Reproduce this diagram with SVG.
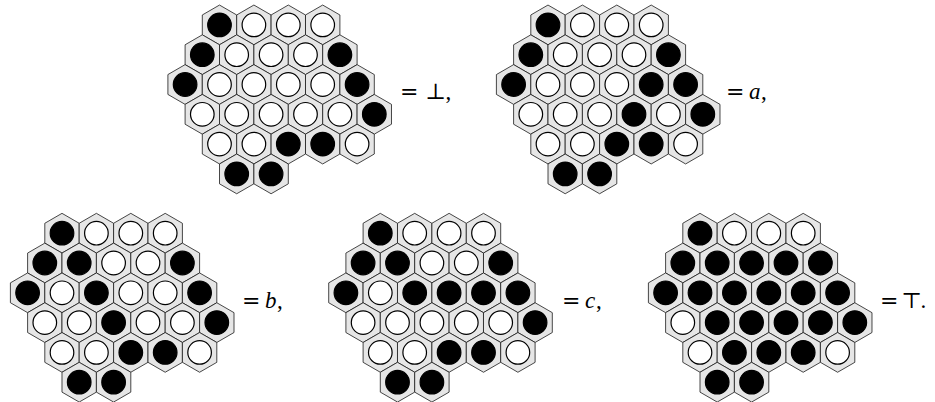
<svg xmlns="http://www.w3.org/2000/svg" xmlns:xlink="http://www.w3.org/1999/xlink" width="935" height="402" viewBox="0 0 935 402">
<style>
.hx{fill:#e6e6e6;stroke:#1a1a1a;stroke-width:0.8}
.b{fill:#000;stroke:#000;stroke-width:1.2}
.w{fill:#fff;stroke:#000;stroke-width:1.2}
.eq{font-family:"DejaVu Serif",serif;font-size:22px;fill:#000}
.it{font-family:"Liberation Serif",serif;font-style:italic;font-size:23px;fill:#000}
.pn{font-family:"Liberation Serif",serif;font-size:23px;fill:#000}
</style>
<defs>
<path id="hex" class="hx" d="M0,-19.86 L17.2,-9.93 L17.2,9.93 L0,19.86 L-17.2,9.93 L-17.2,-9.93 Z"/>
<g id="grid">
<use href="#hex" x="0" y="0"/><use href="#hex" x="34.4" y="0"/><use href="#hex" x="68.8" y="0"/><use href="#hex" x="103.2" y="0"/>
<use href="#hex" x="-17.2" y="29.8"/><use href="#hex" x="17.2" y="29.8"/><use href="#hex" x="51.6" y="29.8"/><use href="#hex" x="86" y="29.8"/><use href="#hex" x="120.4" y="29.8"/>
<use href="#hex" x="-34.4" y="59.6"/><use href="#hex" x="0" y="59.6"/><use href="#hex" x="34.4" y="59.6"/><use href="#hex" x="68.8" y="59.6"/><use href="#hex" x="103.2" y="59.6"/><use href="#hex" x="137.6" y="59.6"/>
<use href="#hex" x="-17.2" y="89.4"/><use href="#hex" x="17.2" y="89.4"/><use href="#hex" x="51.6" y="89.4"/><use href="#hex" x="86" y="89.4"/><use href="#hex" x="120.4" y="89.4"/><use href="#hex" x="154.8" y="89.4"/>
<use href="#hex" x="0" y="119.2"/><use href="#hex" x="34.4" y="119.2"/><use href="#hex" x="68.8" y="119.2"/><use href="#hex" x="103.2" y="119.2"/><use href="#hex" x="137.6" y="119.2"/>
<use href="#hex" x="17.2" y="149"/><use href="#hex" x="51.6" y="149"/>
</g>
</defs>

<g id="board-bottom" transform="translate(219.5,24.9)">
<use href="#grid"/>
<circle class="b" cx="0" cy="0" r="11.8"/><circle class="w" cx="34.4" cy="0" r="11.8"/><circle class="w" cx="68.8" cy="0" r="11.8"/><circle class="w" cx="103.2" cy="0" r="11.8"/>
<circle class="b" cx="-17.2" cy="29.8" r="11.8"/><circle class="w" cx="17.2" cy="29.8" r="11.8"/><circle class="w" cx="51.6" cy="29.8" r="11.8"/><circle class="w" cx="86" cy="29.8" r="11.8"/><circle class="b" cx="120.4" cy="29.8" r="11.8"/>
<circle class="b" cx="-34.4" cy="59.6" r="11.8"/><circle class="w" cx="0" cy="59.6" r="11.8"/><circle class="w" cx="34.4" cy="59.6" r="11.8"/><circle class="w" cx="68.8" cy="59.6" r="11.8"/><circle class="w" cx="103.2" cy="59.6" r="11.8"/><circle class="b" cx="137.6" cy="59.6" r="11.8"/>
<circle class="w" cx="-17.2" cy="89.4" r="11.8"/><circle class="w" cx="17.2" cy="89.4" r="11.8"/><circle class="w" cx="51.6" cy="89.4" r="11.8"/><circle class="w" cx="86" cy="89.4" r="11.8"/><circle class="w" cx="120.4" cy="89.4" r="11.8"/><circle class="b" cx="154.8" cy="89.4" r="11.8"/>
<circle class="w" cx="0" cy="119.2" r="11.8"/><circle class="w" cx="34.4" cy="119.2" r="11.8"/><circle class="b" cx="68.8" cy="119.2" r="11.8"/><circle class="b" cx="103.2" cy="119.2" r="11.8"/><circle class="w" cx="137.6" cy="119.2" r="11.8"/>
<circle class="b" cx="17.2" cy="149" r="11.8"/><circle class="b" cx="51.6" cy="149" r="11.8"/>
</g>
<g id="label-bottom">
<text class="eq" x="400" y="99">=</text><text class="eq" x="425.5" y="99">⊥</text><text class="pn" x="445.5" y="99">,</text>
</g>

<g id="board-a" transform="translate(548,24.9)">
<use href="#grid"/>
<circle class="b" cx="0" cy="0" r="11.8"/><circle class="w" cx="34.4" cy="0" r="11.8"/><circle class="w" cx="68.8" cy="0" r="11.8"/><circle class="w" cx="103.2" cy="0" r="11.8"/>
<circle class="b" cx="-17.2" cy="29.8" r="11.8"/><circle class="w" cx="17.2" cy="29.8" r="11.8"/><circle class="w" cx="51.6" cy="29.8" r="11.8"/><circle class="w" cx="86" cy="29.8" r="11.8"/><circle class="b" cx="120.4" cy="29.8" r="11.8"/>
<circle class="b" cx="-34.4" cy="59.6" r="11.8"/><circle class="w" cx="0" cy="59.6" r="11.8"/><circle class="w" cx="34.4" cy="59.6" r="11.8"/><circle class="w" cx="68.8" cy="59.6" r="11.8"/><circle class="b" cx="103.2" cy="59.6" r="11.8"/><circle class="b" cx="137.6" cy="59.6" r="11.8"/>
<circle class="w" cx="-17.2" cy="89.4" r="11.8"/><circle class="w" cx="17.2" cy="89.4" r="11.8"/><circle class="w" cx="51.6" cy="89.4" r="11.8"/><circle class="b" cx="86" cy="89.4" r="11.8"/><circle class="w" cx="120.4" cy="89.4" r="11.8"/><circle class="b" cx="154.8" cy="89.4" r="11.8"/>
<circle class="w" cx="0" cy="119.2" r="11.8"/><circle class="w" cx="34.4" cy="119.2" r="11.8"/><circle class="b" cx="68.8" cy="119.2" r="11.8"/><circle class="b" cx="103.2" cy="119.2" r="11.8"/><circle class="w" cx="137.6" cy="119.2" r="11.8"/>
<circle class="b" cx="17.2" cy="149" r="11.8"/><circle class="b" cx="51.6" cy="149" r="11.8"/>
</g>
<g id="label-a">
<text class="eq" x="726" y="99">=</text><text class="it" x="749" y="99">a</text><text class="pn" x="761" y="99">,</text>
</g>

<g id="board-b" transform="translate(62,233.2)">
<use href="#grid"/>
<circle class="b" cx="0" cy="0" r="11.8"/><circle class="w" cx="34.4" cy="0" r="11.8"/><circle class="w" cx="68.8" cy="0" r="11.8"/><circle class="w" cx="103.2" cy="0" r="11.8"/>
<circle class="b" cx="-17.2" cy="29.8" r="11.8"/><circle class="b" cx="17.2" cy="29.8" r="11.8"/><circle class="w" cx="51.6" cy="29.8" r="11.8"/><circle class="w" cx="86" cy="29.8" r="11.8"/><circle class="b" cx="120.4" cy="29.8" r="11.8"/>
<circle class="b" cx="-34.4" cy="59.6" r="11.8"/><circle class="w" cx="0" cy="59.6" r="11.8"/><circle class="b" cx="34.4" cy="59.6" r="11.8"/><circle class="w" cx="68.8" cy="59.6" r="11.8"/><circle class="w" cx="103.2" cy="59.6" r="11.8"/><circle class="b" cx="137.6" cy="59.6" r="11.8"/>
<circle class="w" cx="-17.2" cy="89.4" r="11.8"/><circle class="w" cx="17.2" cy="89.4" r="11.8"/><circle class="b" cx="51.6" cy="89.4" r="11.8"/><circle class="w" cx="86" cy="89.4" r="11.8"/><circle class="w" cx="120.4" cy="89.4" r="11.8"/><circle class="b" cx="154.8" cy="89.4" r="11.8"/>
<circle class="w" cx="0" cy="119.2" r="11.8"/><circle class="w" cx="34.4" cy="119.2" r="11.8"/><circle class="b" cx="68.8" cy="119.2" r="11.8"/><circle class="b" cx="103.2" cy="119.2" r="11.8"/><circle class="w" cx="137.6" cy="119.2" r="11.8"/>
<circle class="b" cx="17.2" cy="149" r="11.8"/><circle class="b" cx="51.6" cy="149" r="11.8"/>
</g>
<g id="label-b">
<text class="eq" x="242" y="308">=</text><text class="it" x="265" y="308">b</text><text class="pn" x="277" y="308">,</text>
</g>

<g id="board-c" transform="translate(380.3,233.2)">
<use href="#grid"/>
<circle class="b" cx="0" cy="0" r="11.8"/><circle class="w" cx="34.4" cy="0" r="11.8"/><circle class="w" cx="68.8" cy="0" r="11.8"/><circle class="w" cx="103.2" cy="0" r="11.8"/>
<circle class="b" cx="-17.2" cy="29.8" r="11.8"/><circle class="b" cx="17.2" cy="29.8" r="11.8"/><circle class="w" cx="51.6" cy="29.8" r="11.8"/><circle class="w" cx="86" cy="29.8" r="11.8"/><circle class="b" cx="120.4" cy="29.8" r="11.8"/>
<circle class="b" cx="-34.4" cy="59.6" r="11.8"/><circle class="w" cx="0" cy="59.6" r="11.8"/><circle class="b" cx="34.4" cy="59.6" r="11.8"/><circle class="b" cx="68.8" cy="59.6" r="11.8"/><circle class="b" cx="103.2" cy="59.6" r="11.8"/><circle class="b" cx="137.6" cy="59.6" r="11.8"/>
<circle class="w" cx="-17.2" cy="89.4" r="11.8"/><circle class="w" cx="17.2" cy="89.4" r="11.8"/><circle class="w" cx="51.6" cy="89.4" r="11.8"/><circle class="w" cx="86" cy="89.4" r="11.8"/><circle class="w" cx="120.4" cy="89.4" r="11.8"/><circle class="b" cx="154.8" cy="89.4" r="11.8"/>
<circle class="w" cx="0" cy="119.2" r="11.8"/><circle class="w" cx="34.4" cy="119.2" r="11.8"/><circle class="b" cx="68.8" cy="119.2" r="11.8"/><circle class="b" cx="103.2" cy="119.2" r="11.8"/><circle class="w" cx="137.6" cy="119.2" r="11.8"/>
<circle class="b" cx="17.2" cy="149" r="11.8"/><circle class="b" cx="51.6" cy="149" r="11.8"/>
</g>
<g id="label-c">
<text class="eq" x="562" y="308">=</text><text class="it" x="585" y="308">c</text><text class="pn" x="596" y="308">,</text>
</g>

<g id="board-top" transform="translate(700,233.2)">
<use href="#grid"/>
<circle class="b" cx="0" cy="0" r="11.8"/><circle class="w" cx="34.4" cy="0" r="11.8"/><circle class="w" cx="68.8" cy="0" r="11.8"/><circle class="w" cx="103.2" cy="0" r="11.8"/>
<circle class="b" cx="-17.2" cy="29.8" r="11.8"/><circle class="b" cx="17.2" cy="29.8" r="11.8"/><circle class="b" cx="51.6" cy="29.8" r="11.8"/><circle class="b" cx="86" cy="29.8" r="11.8"/><circle class="b" cx="120.4" cy="29.8" r="11.8"/>
<circle class="b" cx="-34.4" cy="59.6" r="11.8"/><circle class="b" cx="0" cy="59.6" r="11.8"/><circle class="b" cx="34.4" cy="59.6" r="11.8"/><circle class="b" cx="68.8" cy="59.6" r="11.8"/><circle class="b" cx="103.2" cy="59.6" r="11.8"/><circle class="b" cx="137.6" cy="59.6" r="11.8"/>
<circle class="w" cx="-17.2" cy="89.4" r="11.8"/><circle class="b" cx="17.2" cy="89.4" r="11.8"/><circle class="b" cx="51.6" cy="89.4" r="11.8"/><circle class="b" cx="86" cy="89.4" r="11.8"/><circle class="b" cx="120.4" cy="89.4" r="11.8"/><circle class="b" cx="154.8" cy="89.4" r="11.8"/>
<circle class="w" cx="0" cy="119.2" r="11.8"/><circle class="b" cx="34.4" cy="119.2" r="11.8"/><circle class="b" cx="68.8" cy="119.2" r="11.8"/><circle class="b" cx="103.2" cy="119.2" r="11.8"/><circle class="w" cx="137.6" cy="119.2" r="11.8"/>
<circle class="b" cx="17.2" cy="149" r="11.8"/><circle class="b" cx="51.6" cy="149" r="11.8"/>
</g>
<g id="label-top">
<text class="eq" x="880" y="308">=</text><text class="eq" x="901.5" y="308">⊤</text><text class="pn" x="920.5" y="308">.</text>
</g>
</svg>
